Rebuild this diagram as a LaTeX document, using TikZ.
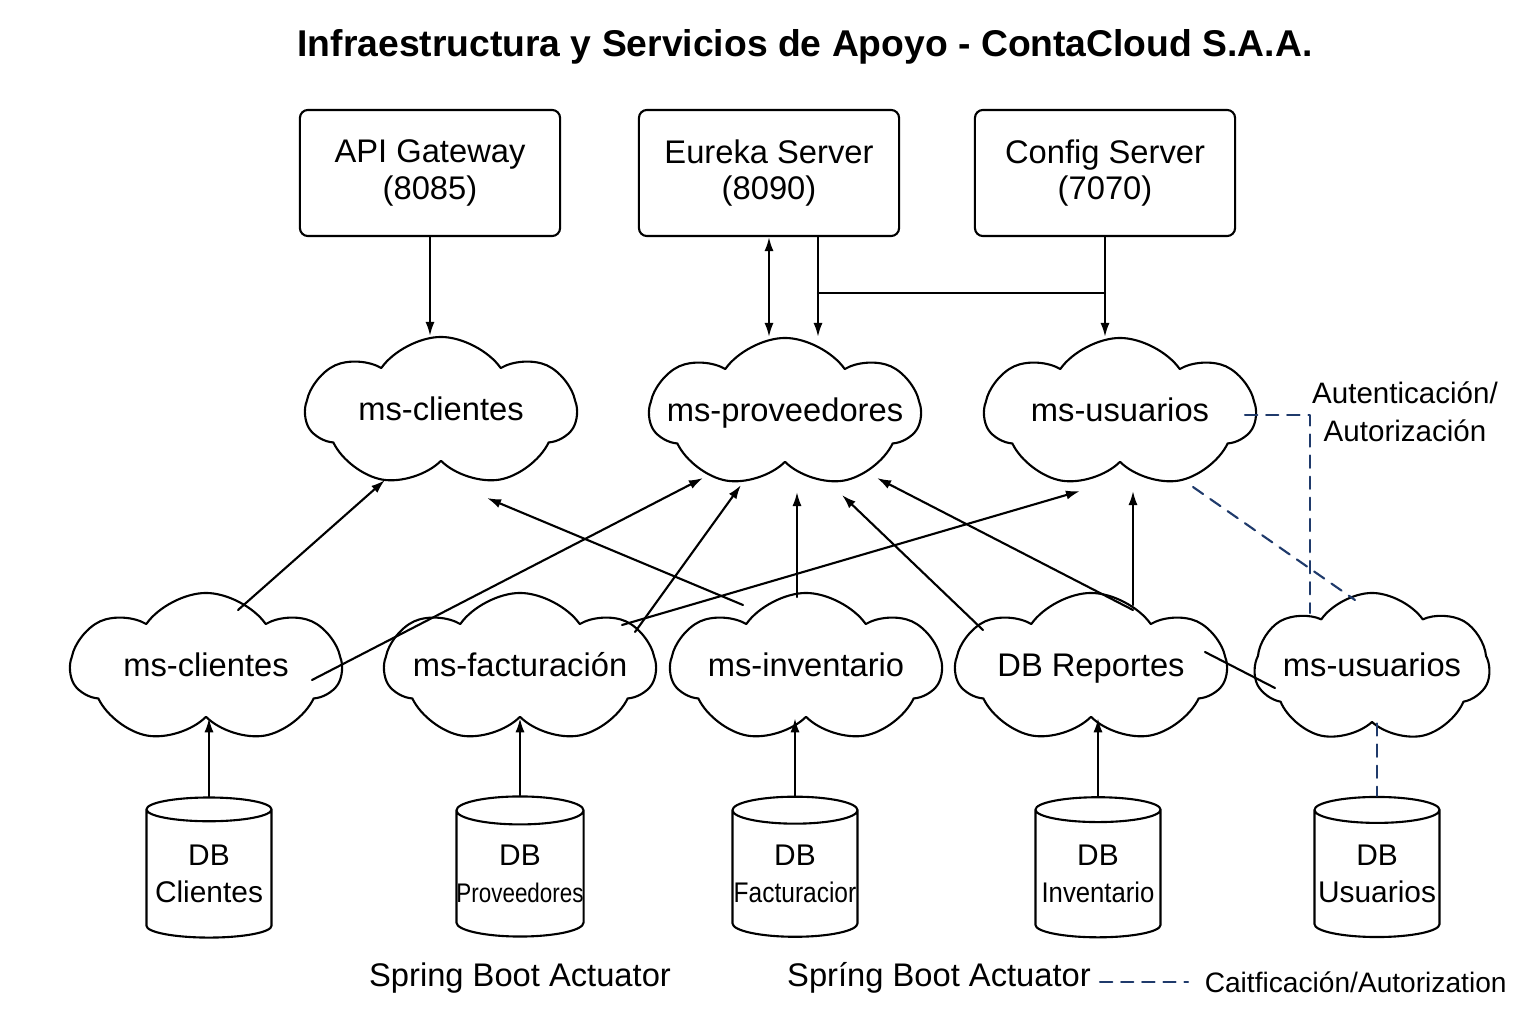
\documentclass[tikz,border=0pt]{standalone}
\usepackage{fontspec}
\setmainfont{Liberation Sans}
\usetikzlibrary{shapes.symbols,shapes.geometric,arrows.meta}
\definecolor{authblue}{HTML}{1F3A6B}
\tikzset{
  srvbox/.style={draw, rounded corners=0.08cm, minimum width=2.6cm, minimum height=1.26cm, align=center},
  msnode/.style={cloud, draw, cloud puffs=7, cloud puff arc=110, cloud ignores aspect, minimum width=2.7cm, minimum height=1.5cm, inner sep=0pt},
  dbnode/.style={cylinder, shape border rotate=90, draw, aspect=0.22, minimum width=1.25cm, minimum height=1.4cm, inner sep=0pt, align=center, font=\fontsize{8.5}{10.5}\selectfont},
  authline/.style={authblue, dash pattern=on 3.5pt off 2.5pt},
  every label/.style={text height=7pt, text depth=2pt},
}
\begin{document}
\begin{tikzpicture}[x=0.01cm, y=-0.01cm, line cap=round, line join=round, line width=0.6pt,
    >={Latex[length=4pt,width=2.6pt]}, font=\fontsize{9.3}{10.5}\selectfont]
  \useasboundingbox (0,0) rectangle (1536,1024);
  \node[anchor=base, font=\bfseries\fontsize{10.6}{12}\selectfont] (title) at (805,57) {Infraestructura y Servicios de Apoyo - ContaCloud S.A.A.};

  % support servers
  \node[srvbox] (api) at (430,173) {API Gateway\\(8085)};
  \node[srvbox] (eureka) at (769,173) {Eureka Server\\(8090)};
  \node[srvbox] (config) at (1105,173) {Config Server\\(7070)};

  % microservices
  \node[msnode, label=center:ms-clientes] (cli) at (441,412) {};
  \node[msnode, label=center:ms-proveedores] (prov) at (785,413) {};
  \node[msnode, label=center:ms-usuarios] (usu) at (1120,413) {};
  \node[msnode, label=center:ms-clientes] (cli2) at (206,668) {};
  \node[msnode, label=center:ms-facturación] (fac) at (520,668) {};
  \node[msnode, label=center:ms-inventario] (inv) at (806,668) {};
  \node[msnode, label=center:DB Reportes] (rep) at (1091,668) {};
  \node[msnode, minimum width=2.35cm, label=center:ms-usuarios] (usu2) at (1372,668) {};

  % databases
  \node[dbnode] (dbcli) at (209,874) {DB\\Clientes};
  \node[dbnode] (dbprov) at (520,874) {DB\\\scalebox{0.75}[0.9]{Proveedores}};
  \node[dbnode] (dbfac) at (795,874) {DB\\\scalebox{0.82}[0.95]{Facturacior}};
  \node[dbnode] (dbinv) at (1098,874) {DB\\\scalebox{0.86}[0.95]{Inventario}};
  \node[dbnode] (dbusu) at (1377,874) {DB\\Usuarios};

  \node[anchor=base] (act1) at (520,986) {Spring Boot Actuator};
  \node[anchor=base] (act2) at (939,986) {Spríng Boot Actuator};
  \node[anchor=base west, font=\fontsize{8}{10}\selectfont] (legend) at (1192,992) {Caitficación/Autorization};
  \node[align=center, font=\fontsize{8.4}{10.8}\selectfont] (authlbl) at (1405,412) {Autenticación/\\Autorización};

  % gateway, registry and config
  \coordinate (cfgtap) at ([shift={(49,0)}]eureka.south);
  \coordinate (bus) at (0,293);
  \draw[->] (api.south) -- (api.south |- cli.north);
  \draw[<->] (eureka.south) -- (eureka.south |- prov.north);
  \draw[->] (cfgtap) -- (cfgtap |- prov.north);
  \draw[->] (config.south) -- (config.south |- usu.north);
  \draw (cfgtap |- bus) -- (config.south |- bus);

  % calls between services
  \draw[->] ([shift={(32,-58)}]cli2.center) -- ([shift={(-56,68)}]cli.center);
  \draw[->] ([shift={(106,12)}]cli2.center) -- ([shift={(-82,65)}]prov.center);
  \draw[->] ([shift={(102,-43)}]fac.center) -- ([shift={(-40,78)}]usu.center);
  \draw[->] ([shift={(115,-36)}]fac.center) -- ([shift={(-44,72)}]prov.center);
  \draw[->] ([shift={(-63,-63)}]inv.center) -- ([shift={(46,86)}]cli.center);
  \draw[->] ([shift={(-9,-71)}]inv.center) -- ([shift={(12,79)}]prov.center);
  \draw[->] ([shift={(-108,-38)}]rep.center) -- ([shift={(57,82)}]prov.center);
  \draw[->] ([shift={(42,-58)}]rep.center) -- ([shift={(92,65)}]prov.center);
  \draw[->] ([shift={(42,-63)}]rep.center) -- ([shift={(13,78)}]usu.center);
  \draw ([shift={(114,-16)}]rep.center) -- ([shift={(-97,20)}]usu2.center);

  % databases feed their services
  \foreach \db/\ms in {dbcli/cli2, dbprov/fac, dbfac/inv, dbinv/rep}
    \draw[->] (\db.north) -- (\db.north |- \ms.south);

  % authentication links
  \draw[authline] ([shift={(125,2)}]usu.center) -| ([shift={(-62,-55)}]usu2.center);
  \draw[authline] ([shift={(73,74)}]usu.center) -- ([shift={(-17,-68)}]usu2.center);
  \draw[authline] (dbusu.north |- usu2.south) -- (dbusu.north);
  \coordinate (legtail) at ([shift={(-92,-10)}]legend.base west);
  \draw[authline] (legtail) -- ++(88,0);
\end{tikzpicture}
\end{document}
